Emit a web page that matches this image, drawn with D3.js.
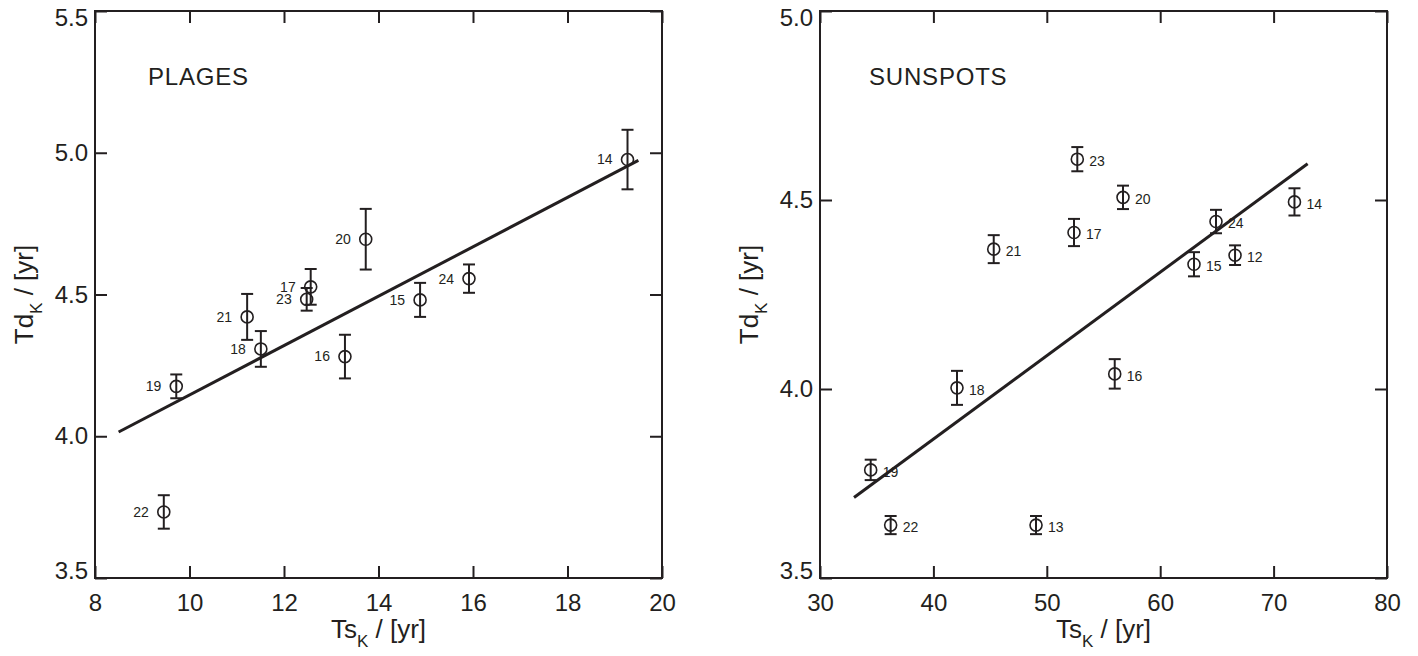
<!DOCTYPE html>
<html lang='en'>
<head>
<meta charset='utf-8'>
<title>Td vs Ts</title>
<script src='https://cdnjs.cloudflare.com/ajax/libs/d3/7.8.5/d3.min.js'></script>
<style>
body {
   margin:0;
   background:white;
   overflow:hidden;
}
svg text {
   font-family:'Liberation Sans', Arial, Helvetica, sans-serif;
   fill:#231f20;
}
</style>
</head>
<body>
<script>
// plages panel
var plagesCycle = [14, 20, 17, 23, 21, 18, 16, 15, 24, 19, 22];
var plagesTs = [19.27, 13.73, 12.565, 12.48, 11.22, 11.51, 13.29, 14.88, 15.915, 9.72, 9.456];
var plagesTd = [4.976, 4.695, 4.527, 4.483, 4.421, 4.308, 4.281, 4.481, 4.556, 4.176, 3.733];
var plagesErr = [0.105, 0.107, 0.063, 0.040, 0.081, 0.063, 0.077, 0.060, 0.050, 0.042, 0.059];
var plagesFitTs = [8.5, 19.5];
var plagesFitTd = [4.015, 4.973];
var plagesXTicks = [8, 10, 12, 14, 16, 18, 20];
var plagesYTicks = [3.5, 4.0, 4.5, 5.0, 5.5];

// sunspots panel
var spotsCycle = [23, 20, 17, 21, 24, 15, 12, 14, 16, 18, 19, 22, 13];
var spotsTs = [52.69, 56.72, 52.40, 45.32, 64.92, 62.98, 66.60, 71.84, 55.99, 42.08, 34.47, 36.23, 49.05];
var spotsTd = [4.608, 4.507, 4.414, 4.370, 4.443, 4.330, 4.354, 4.495, 4.040, 4.003, 3.786, 3.640, 3.640];
var spotsErr = [0.032, 0.031, 0.036, 0.037, 0.031, 0.032, 0.026, 0.036, 0.039, 0.045, 0.027, 0.024, 0.024];
var spotsFitTs = [33, 73];
var spotsFitTd = [3.713, 4.596];
var spotsXTicks = [30, 40, 50, 60, 70, 80];
var spotsYTicks = [3.5, 4.0, 4.5, 5.0];

var ink = '#231f20';
var W = 1418, H = 656;
var plotW = 567, plotH = 567, plotTop = 11;

var svg = d3.select('body').append('svg')
            .attr('width', W)
            .attr('height', H);

function drawPanel(opt) {
   var g = svg.append('g').attr('transform', 'translate(' + opt.left + ',' + plotTop + ')');
   var x = d3.scaleLinear().domain(opt.xDomain).range([0, plotW]);
   var y = d3.scaleLinear().domain(opt.yDomain).range([plotH, 0]);

   // axes, ticks inward on all four sides
   var bottom = g.append('g').attr('transform', 'translate(0,' + plotH + ')')
      .call(d3.axisBottom(x).tickValues(opt.xTicks).tickSizeInner(-12).tickSizeOuter(0).tickPadding(16).tickFormat(d3.format('d')));
   var top = g.append('g')
      .call(d3.axisTop(x).tickValues(opt.xTicks).tickSizeInner(-12).tickSizeOuter(0).tickFormat(''));
   var left = g.append('g')
      .call(d3.axisLeft(y).tickValues(opt.yTicks).tickSizeInner(-12).tickSizeOuter(0).tickPadding(7).tickFormat(d3.format('.1f')));
   var right = g.append('g').attr('transform', 'translate(' + plotW + ',0)')
      .call(d3.axisRight(y).tickValues(opt.yTicks).tickSizeInner(-12).tickSizeOuter(0).tickFormat(''));
   [bottom, top, left, right].forEach(function(a) {
      a.select('.domain').remove();
      a.selectAll('line').attr('stroke', ink).attr('stroke-width', 2);
      a.selectAll('text').style('font-size', '24px').attr('fill', ink);
   });
   // end labels sit a bit inside the frame
   var yl = left.selectAll('text').nodes();
   d3.select(yl[0]).attr('dy', '0.0em');
   d3.select(yl[yl.length - 1]).attr('dy', '0.62em');

   g.append('rect')
      .attr('width', plotW).attr('height', plotH)
      .attr('fill', 'none').attr('stroke', ink).attr('stroke-width', 2);

   // fit line
   var line = d3.line().x(function(d){return x(d[0]);}).y(function(d){return y(d[1]);});
   g.append('path')
      .datum([[opt.fitX[0], opt.fitY[0]], [opt.fitX[1], opt.fitY[1]]])
      .attr('d', line)
      .attr('fill', 'none').attr('stroke', ink).attr('stroke-width', 3);

   var pts = opt.cycle.map(function(c, i) {
      return {c:c, x:opt.ts[i], y:opt.td[i], e:opt.err[i]};
   });
   var pg = g.append('g').selectAll('g').data(pts).enter().append('g');
   pg.append('line')
      .attr('x1', function(d){return x(d.x);}).attr('x2', function(d){return x(d.x);})
      .attr('y1', function(d){return y(d.y - d.e);}).attr('y2', function(d){return y(d.y + d.e);})
      .attr('stroke', ink).attr('stroke-width', 2);
   [-1, 1].forEach(function(s) {
      pg.append('line')
         .attr('x1', function(d){return x(d.x) - 6;}).attr('x2', function(d){return x(d.x) + 6;})
         .attr('y1', function(d){return y(d.y + s * d.e);}).attr('y2', function(d){return y(d.y + s * d.e);})
         .attr('stroke', ink).attr('stroke-width', 2);
   });
   pg.append('circle')
      .attr('cx', function(d){return x(d.x);}).attr('cy', function(d){return y(d.y);})
      .attr('r', 6)
      .attr('fill', 'none').attr('stroke', ink).attr('stroke-width', 1.6);
   pg.append('text')
      .attr('x', function(d){return x(d.x) + opt.labelDx;})
      .attr('y', function(d){return y(d.y) + opt.labelDy;})
      .attr('dy', '0.35em')
      .attr('text-anchor', opt.labelAnchor)
      .style('font-size', '14px')
      .text(function(d){return d.c;});

   // panel name
   g.append('text')
      .attr('x', opt.nameX).attr('y', 74)
      .style('font-size', '24px')
      .style('letter-spacing', '0.8px')
      .text(opt.name);

   // axis titles
   var xt = g.append('text')
      .attr('x', plotW / 2).attr('y', plotH + 60)
      .attr('text-anchor', 'middle')
      .style('font-size', '26px');
   xt.append('tspan').text('Ts');
   xt.append('tspan').attr('dy', 9).style('font-size', '17px').text('K');
   xt.append('tspan').attr('dy', -9).text(' / [yr]');

   var yt = g.append('text')
      .attr('transform', 'translate(-62,' + (plotH / 2) + ') rotate(-90)')
      .attr('text-anchor', 'middle')
      .style('font-size', '26px');
   yt.append('tspan').text('Td');
   yt.append('tspan').attr('dy', 9).style('font-size', '17px').text('K');
   yt.append('tspan').attr('dy', -9).text(' / [yr]');
}

drawPanel({
   left:95, xDomain:[8, 20], yDomain:[3.5, 5.5],
   xTicks:plagesXTicks, yTicks:plagesYTicks,
   cycle:plagesCycle, ts:plagesTs, td:plagesTd, err:plagesErr,
   fitX:plagesFitTs, fitY:plagesFitTd,
   labelDx:-15, labelDy:0, labelAnchor:'end',
   name:'PLAGES', nameX:53
});
drawPanel({
   left:820, xDomain:[30, 80], yDomain:[3.5, 5.0],
   xTicks:spotsXTicks, yTicks:spotsYTicks,
   cycle:spotsCycle, ts:spotsTs, td:spotsTd, err:spotsErr,
   fitX:spotsFitTs, fitY:spotsFitTd,
   labelDx:12, labelDy:2, labelAnchor:'start',
   name:'SUNSPOTS', nameX:49
});
</script>
</body>
</html>
